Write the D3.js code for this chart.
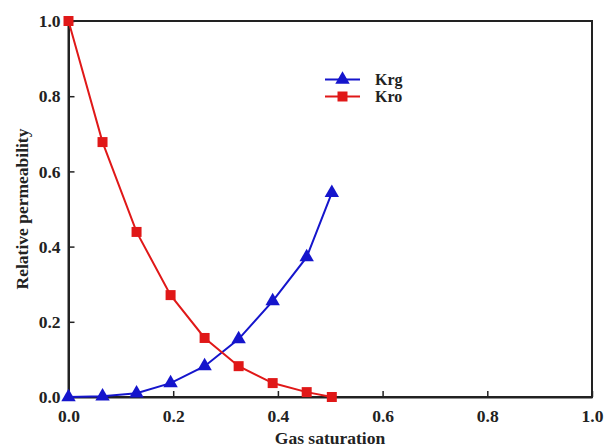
<!DOCTYPE html>
<html>
<head>
<meta charset="utf-8">
<script src="https://cdn.jsdelivr.net/npm/d3@7"></script>
<style>
  body { margin: 0; background: #fff; }
  text { font-family: "Liberation Serif", "Times New Roman", serif; font-weight: bold; }
</style>
</head>
<body>
<div id="graph"></div>
<script>
// chart data
const gasSat = [0, 0.065, 0.13, 0.195, 0.26, 0.325, 0.39, 0.455, 0.503];
const krg = [0, 0.002, 0.01, 0.037, 0.082, 0.154, 0.255, 0.372, 0.543];
const kro = [1.0, 0.678, 0.439, 0.271, 0.157, 0.082, 0.037, 0.013, 0];
const ticks = [0, 0.2, 0.4, 0.6, 0.8, 1.0];

const svgWidth = 604, svgHeight = 447;
const margin = { left: 68.5, right: 12, top: 21, bottom: 50 };

const svg = d3.select('#graph').html("")
  .append('svg')
  .attr('width', svgWidth)
  .attr('height', svgHeight);

const xScale = d3.scaleLinear().domain([0, 1]).range([margin.left, svgWidth - margin.right]);
const yScale = d3.scaleLinear().domain([0, 1]).range([svgHeight - margin.bottom, margin.top]);

// frame
svg.append('rect')
  .attr('x', xScale(0)).attr('y', yScale(1))
  .attr('width', xScale(1) - xScale(0))
  .attr('height', yScale(0) - yScale(1))
  .attr('fill', 'none').attr('stroke', '#222').attr('stroke-width', 2);

// axes, ticks pointing inward
const xAxis = svg.append('g')
  .attr('transform', `translate(0,${yScale(0)})`)
  .call(d3.axisBottom(xScale).tickValues(ticks).tickSizeInner(-6).tickSizeOuter(0).tickPadding(13).tickFormat(d3.format('.1f')));
const yAxis = svg.append('g')
  .attr('transform', `translate(${xScale(0)},0)`)
  .call(d3.axisLeft(yScale).tickValues(ticks).tickSizeInner(-6).tickSizeOuter(0).tickPadding(8).tickFormat(d3.format('.1f')));
[xAxis, yAxis].forEach(ax => {
  ax.select('.domain').attr('stroke', '#222').attr('stroke-width', 2);
  ax.selectAll('.tick line').attr('stroke', '#222').attr('stroke-width', 1.5);
  ax.selectAll('.tick text').attr('fill', '#222').style('font-size', '17.5px')
    .style('font-family', '"Liberation Serif", serif').style('font-weight', 'bold');
});

// axis titles
svg.append('text')
  .attr('x', 330).attr('y', 444)
  .attr('text-anchor', 'middle').style('font-size', '17.5px').attr('fill', '#222')
  .text('Gas saturation');
svg.append('text')
  .attr('transform', `translate(28,209) rotate(-90)`)
  .attr('text-anchor', 'middle').style('font-size', '17.5px').attr('fill', '#222')
  .text('Relative permeability');

const line = d3.line().x(d => xScale(d[0])).y(d => yScale(d[1]));
const series = [
  { name: 'Krg', values: krg, color: '#1515cc', symbol: d3.symbolTriangle },
  { name: 'Kro', values: kro, color: '#e01818', symbol: d3.symbolSquare }
];

series.forEach(s => {
  const pts = gasSat.map((x, i) => [x, s.values[i]]);
  svg.append('path').datum(pts)
    .attr('d', line).attr('fill', 'none')
    .attr('stroke', s.color).attr('stroke-width', 2);
  svg.selectAll(null).data(pts).enter().append('path')
    .attr('d', d3.symbol().type(s.symbol).size(s.symbol === d3.symbolSquare ? 100 : 90))
    .attr('transform', d => `translate(${xScale(d[0])},${yScale(d[1])})`)
    .attr('fill', s.color);
});

// legend
const legend = svg.append('g').attr('transform', 'translate(325,79.5)');
series.forEach((s, i) => {
  const g = legend.append('g').attr('transform', `translate(0,${i * 17})`);
  g.append('line').attr('x1', 0).attr('x2', 35).attr('stroke', s.color).attr('stroke-width', 2);
  g.append('path').attr('d', d3.symbol().type(s.symbol).size(s.symbol === d3.symbolSquare ? 100 : 90))
    .attr('transform', 'translate(17.5,0)').attr('fill', s.color);
  g.append('text').attr('x', 50).attr('y', 5.5).style('font-size', '16px').attr('fill', '#222').text(s.name);
});
</script>
</body>
</html>
